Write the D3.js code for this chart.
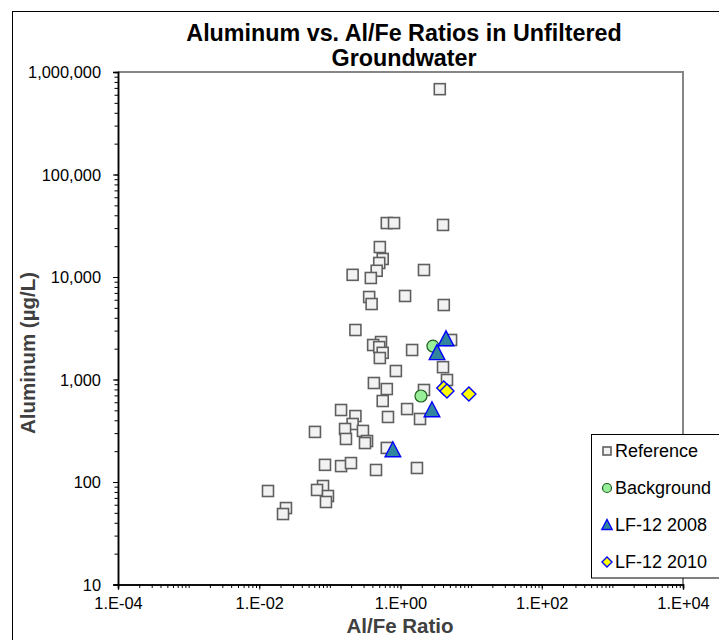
<!DOCTYPE html>
<html>
<head>
<meta charset="utf-8">
<script src="https://cdnjs.cloudflare.com/ajax/libs/d3/7.8.5/d3.min.js"></script>
<style>
  body { margin: 0; background: #fff; }
  svg { display: block; font-family: "Liberation Sans", Arial, sans-serif; }
  .title { font-weight: bold; font-size: 23.3px; fill: #000; }
  .axis-label { font-weight: bold; font-size: 20.5px; fill: #404040; }
  .tick text { font-size: 16.4px; fill: #000; }
  .legend text { font-size: 18px; fill: #000; }
</style>
</head>
<body>
<svg width="719" height="640"></svg>
<script>
const titleLines = ['Aluminum  vs. Al/Fe Ratios in Unfiltered', 'Groundwater'];
const xAxisLabelText = 'Al/Fe Ratio';
const yAxisLabelText = 'Aluminum (µg/L)';

// Reference wells (Al/Fe ratio, Al in ug/L)
const refX = [3.6, 0.64, 0.81, 4.0, 0.51, 0.56, 0.50, 0.46, 0.21, 0.38, 2.15, 0.36, 0.39, 1.16, 4.1,
  0.23, 0.53, 0.41, 0.50, 0.56, 0.51, 1.46, 5.2, 4.0, 0.86, 0.42, 0.64, 4.55, 2.15, 0.56,
  0.144, 0.23, 0.21, 0.164, 0.294, 0.336, 0.314, 0.169, 0.0615, 0.665, 1.24, 1.89, 0.64,
  0.0853, 0.144, 0.199, 0.45, 1.71, 0.0133, 0.080, 0.0658, 0.094, 0.088, 0.0239, 0.0217];
const refY = [680000, 33600, 33600, 32200, 19600, 15000, 13700, 11500, 10500, 9780, 11700, 6380, 5450, 6530, 5330,
  3040, 2320, 2170, 2070, 1820, 1620, 1940, 2430, 1320, 1210, 924, 807, 989, 790, 617,
  504, 440, 368, 329, 315, 251, 240, 263, 308, 431, 515, 412, 215,
  147, 143, 153, 131, 137, 81.7, 91.4, 83.6, 73, 63.8, 55.7, 48.7];

const bgX = [2.88, 1.95];
const bgY = [2120, 690];

const lf2008X = [4.41, 3.29, 2.79, 0.78];
const lf2008Y = [2480, 1820, 504, 205];

const lf2010X = [4.1, 4.55, 9.3];
const lf2010Y = [826, 773, 722];

const xTickValues = [1e-4, 1e-2, 1, 1e2, 1e4];
const yTickValues = [10, 100, 1000, 10000, 100000, 1000000];

const legendNames = ['Reference', 'Background', 'LF-12 2008', 'LF-12 2010'];

const svg = d3.select('svg');
const width = +svg.attr('width');
const height = +svg.attr('height');

const margin = { top: 72, right: 36, bottom: 55.5, left: 118 };
const innerWidth = width - margin.left - margin.right;
const innerHeight = height - margin.top - margin.bottom;

// outer chart frame
svg.append('rect')
  .attr('x', 12.5).attr('y', 11.5)
  .attr('width', width).attr('height', height)
  .attr('fill', 'none').attr('stroke', '#000').attr('stroke-width', 1);

const xScale = d3.scaleLog().domain([1e-4, 1e4]).range([0, innerWidth]);
const yScale = d3.scaleLog().domain([10, 1e6]).range([innerHeight, 0]);

const g = svg.append('g')
  .attr('transform', `translate(${margin.left},${margin.top})`);

// plot area border (top + right grey)
g.append('path')
  .attr('d', `M0,0H${innerWidth}V${innerHeight}`)
  .attr('fill', 'none').attr('stroke', '#868686').attr('stroke-width', 2);

// minor ticks
const minors = (lo, hi) => {
  const out = [];
  for (let e = lo; e < hi; e++)
    for (let k = 1; k <= 9; k++) out.push(k * Math.pow(10, e));
  out.push(Math.pow(10, hi));
  return out;
};

const expFormat = d => {
  const e = Math.round(Math.log10(d));
  return '1.E' + (e < 0 ? '-' : '+') + String(Math.abs(e)).padStart(2, '0');
};

const xMinorG = g.append('g')
  .attr('transform', `translate(0,${innerHeight})`)
  .call(d3.axisBottom(xScale).tickValues(minors(-4, 4)).tickSize(3.5).tickFormat(''));
const xAxisG = g.append('g')
  .attr('transform', `translate(0,${innerHeight})`)
  .call(d3.axisBottom(xScale).tickValues(xTickValues).tickSize(5).tickPadding(8).tickFormat(expFormat));

const yMinorG = g.append('g')
  .call(d3.axisLeft(yScale).tickValues(minors(1, 6)).tickSize(3.5).tickFormat(''));
const yAxisG = g.append('g')
  .call(d3.axisLeft(yScale).tickValues(yTickValues).tickSize(5).tickPadding(12).tickFormat(d3.format(',')));

xMinorG.selectAll('text').remove();
yMinorG.selectAll('text').remove();

[xMinorG, xAxisG, yMinorG, yAxisG].forEach(a => {
  a.selectAll('line').attr('stroke', '#000').attr('stroke-width', 1);
  a.select('.domain').attr('stroke', '#000').attr('stroke-width', 1.5);
  a.attr('font-family', null).attr('font-size', null);
});
yAxisG.selectAll('.tick text').attr('dy', '0.36em');

// axis titles
svg.append('text')
  .attr('class', 'axis-label')
  .attr('x', 400).attr('y', 633)
  .attr('text-anchor', 'middle')
  .text(xAxisLabelText);

svg.append('text')
  .attr('class', 'axis-label')
  .attr('transform', 'translate(34.5,353) rotate(-90)')
  .attr('text-anchor', 'middle')
  .text(yAxisLabelText);

// chart title
svg.append('text')
  .attr('class', 'title')
  .attr('text-anchor', 'middle')
  .selectAll('tspan').data(titleLines)
  .enter().append('tspan')
    .attr('x', 404)
    .attr('y', (d, i) => 41 + i * 25)
    .text(d => d);

// marker shapes
const drawSquare = (sel, s) => sel.append('rect')
  .attr('x', -s / 2).attr('y', -s / 2).attr('width', s).attr('height', s)
  .attr('fill', '#f2f2f2').attr('stroke', '#5f5f5f').attr('stroke-width', 1.6);
const drawCircle = (sel, s) => sel.append('circle')
  .attr('r', s / 2)
  .attr('fill', '#99ee99').attr('stroke', '#1f5f1f').attr('stroke-width', 1.2);
const drawTriangle = (sel, s) => sel.append('path')
  .attr('d', `M0,${-s * 0.55}L${s * 0.52},${s * 0.45}L${-s * 0.52},${s * 0.45}Z`)
  .attr('fill', '#31859c').attr('stroke', '#0000ff').attr('stroke-width', 1.4);
const drawDiamond = (sel, s) => sel.append('path')
  .attr('d', `M0,${-s / 2}L${s / 2},0L0,${s / 2}L${-s / 2},0Z`)
  .attr('fill', '#ffff00').attr('stroke', '#0000ff').attr('stroke-width', 1.4);

const series = [
  { xs: refX, ys: refY, draw: drawSquare, size: 11, legSize: 8 },
  { xs: bgX, ys: bgY, draw: drawCircle, size: 12, legSize: 9 },
  { xs: lf2008X, ys: lf2008Y, draw: drawTriangle, size: 15, legSize: 10 },
  { xs: lf2010X, ys: lf2010Y, draw: drawDiamond, size: 14, legSize: 10 }
];

series.forEach(s => {
  const pts = s.xs.map((x, i) => ({ x, y: s.ys[i] }));
  g.append('g').selectAll('g').data(pts)
    .enter().append('g')
      .attr('transform', d => `translate(${xScale(d.x)},${yScale(d.y)})`)
      .each(function () { s.draw(d3.select(this), s.size); });
});

// legend
const legend = svg.append('g').attr('class', 'legend');
legend.append('rect')
  .attr('x', 591.5).attr('y', 434.5).attr('width', 140).attr('height', 143.5)
  .attr('fill', '#fff').attr('stroke', '#000').attr('stroke-width', 1);

const items = legend.selectAll('g.item').data(legendNames)
  .enter().append('g')
    .attr('class', 'item')
    .attr('transform', (d, i) => `translate(607,${457 + i * 37})`);
items.each(function (d, i) {
  const it = d3.select(this);
  const m = it.append('g').attr('transform', 'translate(0,-6)');
  series[i].draw(m, series[i].legSize);
  it.append('text').attr('x', 8).attr('y', 0).text(d);
});
</script>
</body>
</html>
